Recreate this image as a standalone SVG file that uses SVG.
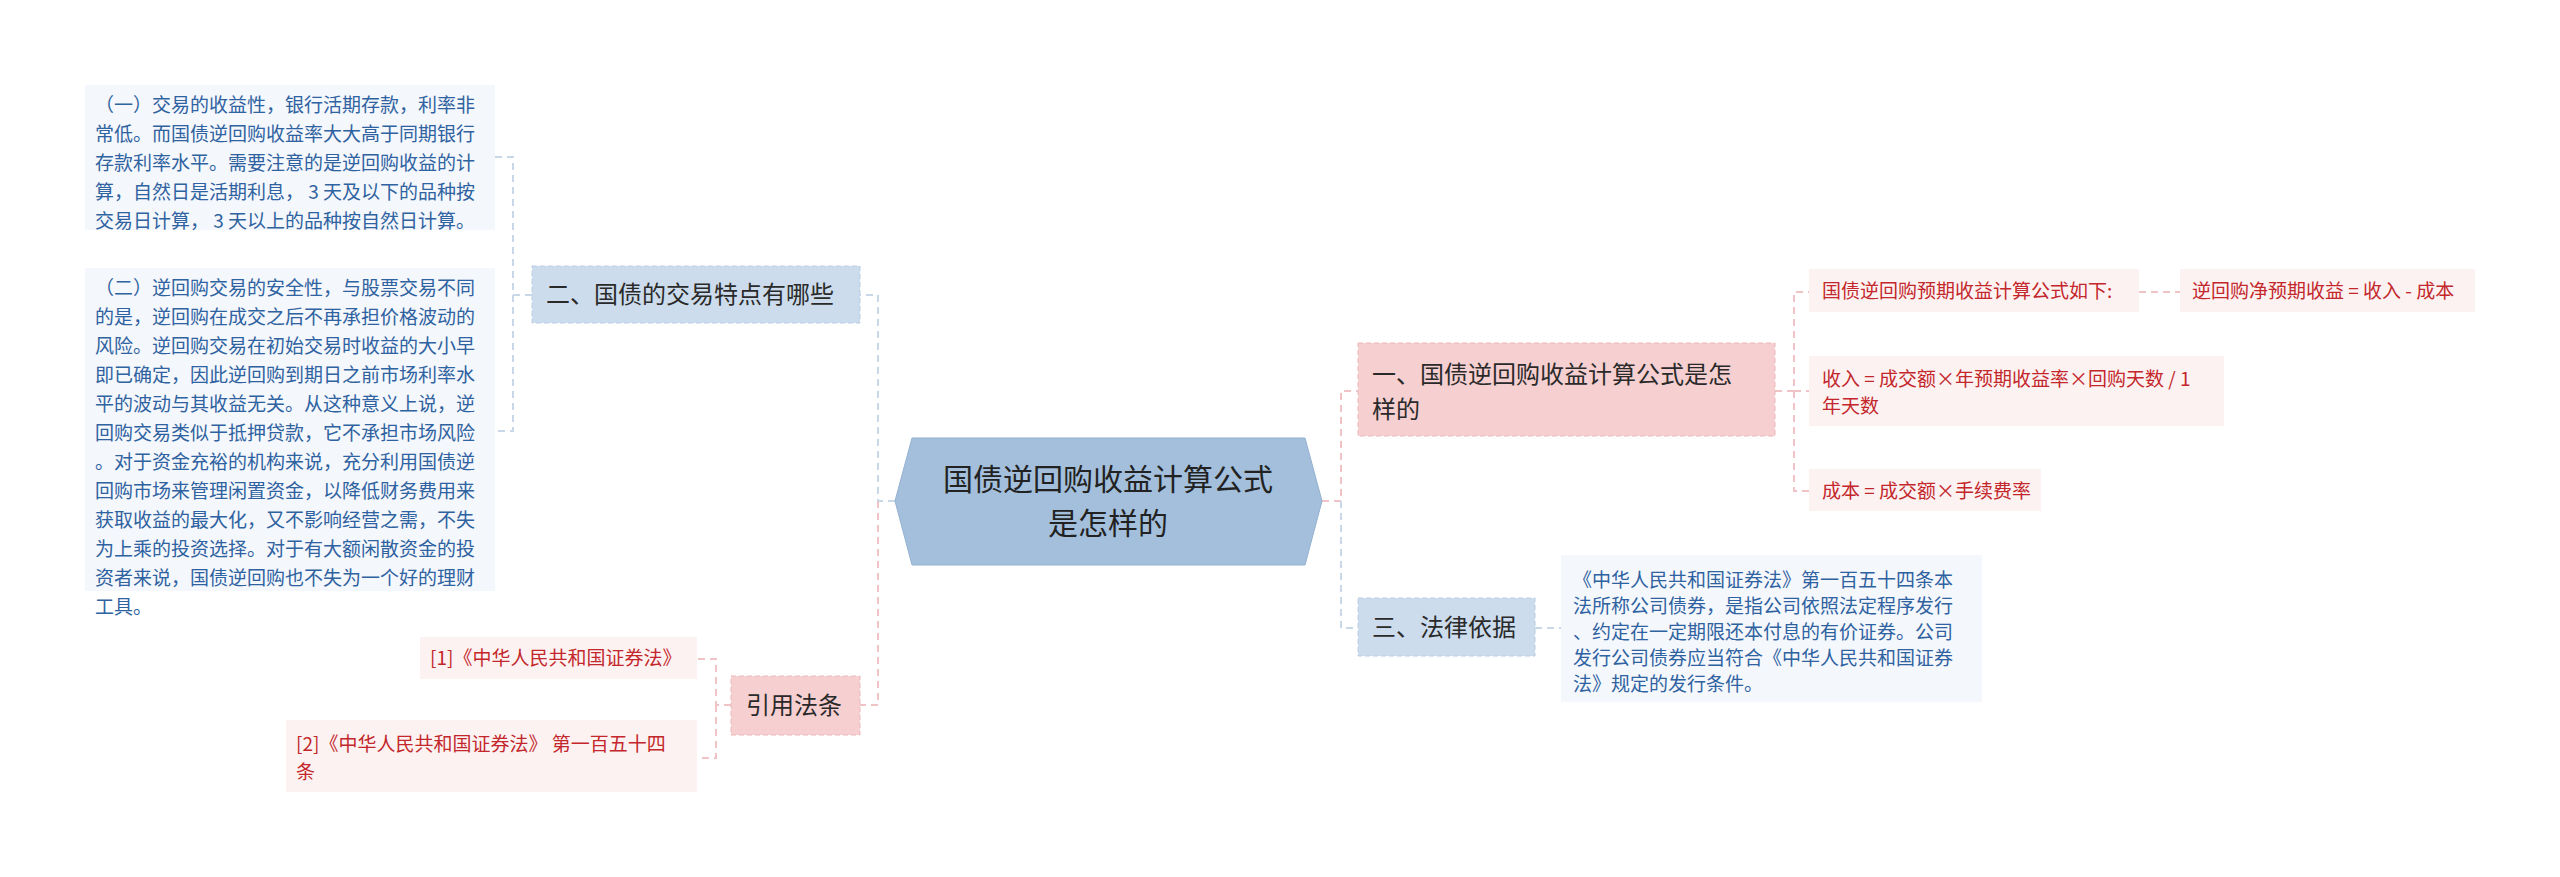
<svg xmlns="http://www.w3.org/2000/svg" width="2560" height="877" viewBox="0 0 2560 877">
<style>
text{font-family:"Noto Sans CJK SC","Liberation Sans",sans-serif}
.bl{fill:#f4f7fc}.bt{fill:#2f62a0;font-size:19px}
.pl{fill:#fdf2f2}.pt{fill:#c3272b;font-size:19px}
.bn{fill:#ccdcec;stroke:#b9cde2;stroke-dasharray:5 3}
.pn{fill:#f6cfd0;stroke:#ecb7b9;stroke-dasharray:5 3}
.nt{fill:#2a2a2a;font-size:24px}
.cb{fill:none;stroke:#c9d8e8;stroke-width:2;stroke-dasharray:7 5}
.cp{fill:none;stroke:#f0c4c6;stroke-width:2;stroke-dasharray:7 5}
</style>
<rect width="2560" height="877" fill="#fff"/>
<g id="connectors">
<path class="cb" d="M895 501 H878 V295 H860"/>
<path class="cp" d="M878 501 V705 H860"/>
<path class="cp" d="M1322 501 H1341 V391 H1358"/>
<path class="cb" d="M1341 501 V628 H1358"/>
<path class="cb" d="M532 295 H513 V157 H495 M513 295 V431 H495"/>
<path class="cp" d="M731 705 H716 V659 H697 M716 705 V758 H697"/>
<path class="cp" d="M1775 391 H1794 V292 H1809 M1794 391 H1809 M1794 391 V491 H1809"/>
<path class="cp" d="M2139 292 H2180"/>
<path class="cb" d="M1535 628 H1561"/>
</g>
<g id="root">
<polygon points="912,438 1305,438 1322,501 1305,565 912,565 895,501" fill="#a3bfdb" stroke="#93b1d0"/>
<text x="1108" y="490" text-anchor="middle" font-size="30" fill="#222">国债逆回购收益计算公式</text>
<text x="1108" y="534" text-anchor="middle" font-size="30" fill="#222">是怎样的</text>
</g>
<g id="n2"><rect class="bn" x="532" y="266" width="328" height="57"/><text class="nt" x="546" y="303">二、国债的交易特点有哪些</text></g>
<g id="b1"><rect class="bl" x="85" y="85" width="410" height="145"/>
<text class="bt"><tspan x="95" y="112">（一）交易的收益性，银行活期存款，利率非</tspan><tspan x="95" y="141">常低。而国债逆回购收益率大大高于同期银行</tspan><tspan x="95" y="170">存款利率水平。需要注意的是逆回购收益的计</tspan><tspan x="95" y="199">算，自然日是活期利息， 3 天及以下的品种按</tspan><tspan x="95" y="228">交易日计算， 3 天以上的品种按自然日计算。</tspan></text></g>
<g id="b2"><rect class="bl" x="85" y="268" width="410" height="323"/>
<text class="bt"><tspan x="95" y="295">（二）逆回购交易的安全性，与股票交易不同</tspan><tspan x="95" y="324">的是，逆回购在成交之后不再承担价格波动的</tspan><tspan x="95" y="353">风险。逆回购交易在初始交易时收益的大小早</tspan><tspan x="95" y="382">即已确定，因此逆回购到期日之前市场利率水</tspan><tspan x="95" y="411">平的波动与其收益无关。从这种意义上说，逆</tspan><tspan x="95" y="440">回购交易类似于抵押贷款，它不承担市场风险</tspan><tspan x="95" y="469">。对于资金充裕的机构来说，充分利用国债逆</tspan><tspan x="95" y="498">回购市场来管理闲置资金，以降低财务费用来</tspan><tspan x="95" y="527">获取收益的最大化，又不影响经营之需，不失</tspan><tspan x="95" y="556">为上乘的投资选择。对于有大额闲散资金的投</tspan><tspan x="95" y="585">资者来说，国债逆回购也不失为一个好的理财</tspan><tspan x="95" y="614">工具。</tspan></text></g>
<g id="ref"><rect class="pn" x="731" y="676" width="129" height="59"/><text class="nt" x="746" y="714">引用法条</text></g>
<g id="r1"><rect class="pl" x="420" y="637" width="277" height="42"/><text class="pt" x="430" y="665">[1]《中华人民共和国证券法》</text></g>
<g id="r2"><rect class="pl" x="286" y="720" width="411" height="72"/><text class="pt"><tspan x="296" y="751">[2]《中华人民共和国证券法》 第一百五十四</tspan><tspan x="296" y="779">条</tspan></text></g>
<g id="n1"><rect class="pn" x="1358" y="343" width="417" height="93"/><text class="nt"><tspan x="1372" y="383">一、国债逆回购收益计算公式是怎</tspan><tspan x="1372" y="418">样的</tspan></text></g>
<g id="f1"><rect class="pl" x="1809" y="269" width="330" height="43"/><text class="pt" x="1822" y="298">国债逆回购预期收益计算公式如下:</text></g>
<g id="f2"><rect class="pl" x="2180" y="269" width="295" height="43"/><text class="pt" x="2192" y="298">逆回购净预期收益 = 收入 - 成本</text></g>
<g id="f3"><rect class="pl" x="1809" y="356" width="415" height="70"/><text class="pt"><tspan x="1822" y="386">收入 = 成交额×年预期收益率×回购天数 / 1</tspan><tspan x="1822" y="413">年天数</tspan></text></g>
<g id="f4"><rect class="pl" x="1809" y="469" width="232" height="42"/><text class="pt" x="1822" y="498">成本 = 成交额×手续费率</text></g>
<g id="n3"><rect class="bn" x="1358" y="598" width="177" height="58"/><text class="nt" x="1372" y="636">三、法律依据</text></g>
<g id="law"><rect class="bl" x="1561" y="555" width="421" height="147"/>
<text class="bt"><tspan x="1573" y="587">《中华人民共和国证券法》第一百五十四条本</tspan><tspan x="1573" y="613">法所称公司债券，是指公司依照法定程序发行</tspan><tspan x="1573" y="639">、约定在一定期限还本付息的有价证券。公司</tspan><tspan x="1573" y="665">发行公司债券应当符合《中华人民共和国证券</tspan><tspan x="1573" y="691">法》规定的发行条件。</tspan></text></g>
</svg>
